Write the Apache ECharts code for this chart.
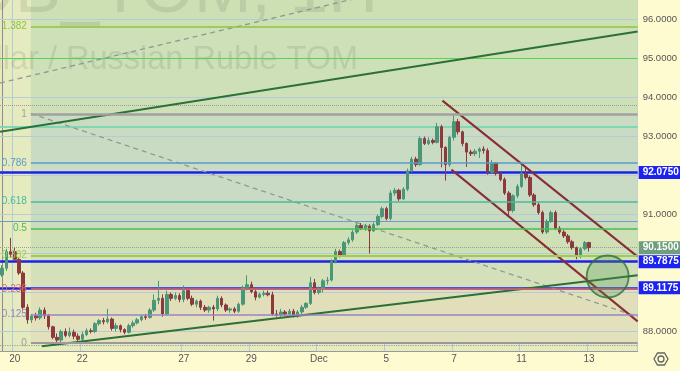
<!DOCTYPE html>
<html><head><meta charset="utf-8">
<script src="https://cdn.jsdelivr.net/npm/echarts@6/dist/echarts.min.js"></script>
<style>html,body{margin:0;padding:0;background:#fffbd0;}#c{width:680px;height:371px;}</style>
</head><body><div id="c"></div>
<script>
// ---------- data ----------
const tradingDays = ['Nov 17','Nov 20','Nov 21','Nov 22','Nov 23','Nov 24','Nov 27','Nov 28','Nov 29','Nov 30',
  'Dec 1','Dec 4','Dec 5','Dec 6','Dec 7','Dec 8','Dec 11','Dec 12','Dec 13','Dec 14'];
const sessionHours = ['10:00','11:00','12:00','13:00','14:00','15:00','16:00','17:00'];
const xTickDays = ['Nov 20','Nov 22','Nov 27','Nov 29','Dec 1','Dec 5','Dec 7','Dec 11','Dec 13'];
const xTickLabels = ['20','22','27','29','Dec','5','7','11','13'];
const yTickLabels = [96, 95, 94, 93, 91, 88];
const gridLevels = [88, 89, 90, 91, 92, 93, 94, 95, 96];

// [open, close, low, high]
const ohlc = [
[89.45,89.62,89.40,89.70],[89.62,90.05,89.55,90.12],[90.05,89.98,89.90,90.40],[90.05,89.85,89.80,90.15],
[89.85,89.50,89.45,89.90],[89.50,88.62,88.55,89.55],[88.62,88.30,88.20,88.70],[88.30,88.40,88.22,88.45],
[88.40,88.35,88.28,88.48],[88.35,88.55,88.30,88.62],[88.55,88.40,88.32,88.62],[88.40,88.12,88.05,88.45],
[88.12,87.85,87.80,88.15],[87.85,87.78,87.70,87.95],[87.78,88.00,87.72,88.05],[88.00,87.90,87.85,88.08],
[87.90,87.98,87.85,88.10],[87.98,87.88,87.80,88.05],[87.88,87.80,87.74,87.95],[87.80,87.92,87.75,88.00],
[87.92,88.02,87.88,88.08],[88.02,88.00,87.95,88.08],[88.00,88.20,87.96,88.24],[88.20,88.28,88.15,88.32],
[88.28,88.25,88.18,88.35],[88.25,88.32,88.20,88.58],[88.32,88.08,88.02,88.36],[88.08,88.15,88.00,88.22],
[88.15,88.05,87.98,88.18],[88.05,87.98,87.93,88.08],[87.98,88.15,87.95,88.20],[88.15,88.22,88.10,88.28],
[88.22,88.30,88.18,88.35],[88.30,88.38,88.26,88.42],[88.38,88.36,88.30,88.45],[88.36,88.55,88.33,88.60],
[88.55,88.80,88.50,88.95],[88.80,88.85,88.70,89.30],[88.85,88.45,88.38,88.95],[88.45,88.95,88.40,89.05],
[88.95,88.85,88.78,89.00],[88.85,88.92,88.80,89.00],[88.92,88.82,88.75,88.98],[88.82,89.05,88.75,89.18],
[89.05,88.85,88.80,89.08],[88.85,88.70,88.65,88.92],[88.70,88.78,88.62,88.82],[88.78,88.62,88.55,88.82],
[88.62,88.55,88.50,88.68],[88.55,88.62,88.48,88.66],[88.62,88.58,88.28,88.68],[88.58,88.85,88.52,88.92],
[88.85,88.68,88.62,88.90],[88.68,88.55,88.50,88.72],[88.55,88.58,88.48,88.62],[88.58,88.52,88.47,88.63],
[88.52,88.70,88.48,88.74],[88.70,89.12,88.66,89.18],[89.12,89.20,89.05,89.44],[89.20,89.02,88.98,89.28],
[89.02,88.88,88.80,89.08],[88.88,88.95,88.85,89.00],[88.95,88.98,88.90,89.05],[88.98,88.94,88.90,89.05],
[88.94,88.45,88.40,89.02],[88.45,88.42,88.38,88.55],[88.42,88.50,88.38,88.58],[88.50,88.45,88.40,88.55],
[88.45,88.52,88.42,88.58],[88.52,88.40,88.36,88.58],[88.40,88.50,88.35,88.55],[88.50,88.62,88.45,88.68],
[88.62,88.72,88.58,88.75],[88.72,89.25,88.68,89.40],[89.25,89.00,88.95,89.35],[89.00,89.08,88.95,89.15],
[89.08,89.30,89.00,89.35],[89.30,89.32,89.20,89.40],[89.32,89.80,89.28,89.85],[89.80,90.05,89.75,90.12],
[90.05,89.95,89.90,90.10],[89.95,90.28,89.92,90.32],[90.28,90.35,90.22,90.42],[90.35,90.55,90.30,90.60],
[90.55,90.72,90.50,90.78],[90.72,90.65,90.60,90.78],[90.65,90.70,90.58,90.76],[90.70,90.58,90.00,90.75],
[90.58,90.74,90.55,90.80],[90.74,90.95,90.70,91.00],[90.95,91.15,90.90,91.20],[91.15,90.90,90.85,91.20],
[90.90,91.55,90.85,91.62],[91.55,91.62,91.48,91.68],[91.62,91.40,91.35,91.66],[91.40,91.65,91.38,91.70],
[91.65,92.12,91.60,92.18],[92.12,92.42,92.08,92.48],[92.42,92.28,92.22,92.48],[92.28,92.95,92.25,93.00],
[92.95,92.82,92.78,93.00],[92.82,92.90,92.78,92.98],[92.90,92.85,92.80,92.95],[92.85,93.25,92.82,93.35],
[93.25,92.72,92.21,93.30],[92.72,92.28,91.87,92.75],[92.28,92.98,92.22,93.02],[92.98,93.38,92.90,93.58],
[93.38,93.12,93.05,93.45],[93.12,92.82,92.75,93.15],[92.82,92.60,92.22,92.85],[92.60,92.56,92.50,92.66],
[92.56,92.62,92.50,92.68],[92.62,92.68,92.45,92.72],[92.68,92.64,92.56,92.75],[92.64,92.08,92.02,92.70],
[92.08,92.32,92.05,92.40],[92.32,92.05,92.00,92.34],[92.05,91.90,91.85,92.08],[91.90,91.55,91.50,91.95],
[91.55,91.10,90.98,91.60],[91.10,91.48,91.05,91.52],[91.48,91.72,91.42,91.78],[91.72,92.05,91.68,92.26],
[92.05,91.95,91.90,92.20],[91.95,91.50,91.45,92.00],[91.50,91.25,91.20,91.55],[91.25,91.05,91.00,91.30],
[91.05,90.55,90.50,91.10],[90.55,90.82,90.50,90.88],[90.82,91.05,90.78,91.10],[91.05,90.65,90.60,91.10],
[90.65,90.55,90.50,90.70],[90.55,90.45,90.40,90.60],[90.45,90.30,90.25,90.50],[90.30,90.15,90.10,90.35],
[90.15,89.92,89.85,90.18],[89.92,90.12,89.88,90.16],[90.12,90.28,90.08,90.32],[90.28,90.15,90.05,90.30]
];

// Fibonacci retracement
const fibRatios = [0, 0.125, 0.236, 0.382, 0.5, 0.618, 0.786, 1, 1.382];
const fibLow = 87.70, fibHigh = 93.58, fibStartBar = 6.81, fibEndBar = 150.5;

// horizontal levels
const levelPrices = [95.0, 93.79, 93.26, 90.83, 87.64];
const tagPrices = [92.075, 90.15, 89.7875, 89.1175];

// drawn lines [barIndex, price]
const upperDashed = [[-0.5, 94.37], [150.5, 98.26]];
const upperGreen = [[-0.5, 93.12], [150.5, 95.69]];
const fibDiagonal = [[6.81, 93.59], [150.5, 88.38]];
const lowerGreen = [[9.41, 87.62], [150.5, 89.44]];
const channelTop = [[104.27, 93.92], [150.5, 89.92]];
const channelBottom = [[106.39, 92.15], [150.5, 88.26]];
const targetCircle = [[143.4, 89.41]];

// ---------- styles ----------
const fibColors = ['#9a9a9a','#9683c4','#e06b6b','#9ccc55','#4cbb4c','#48b89e','#5a9bc8','#a0a0a0','#8cc63f'];
const fibWidths = [2,1.5,1.5,2,1.5,1.5,1.5,2.5,1.5];
const bandColors = ['#e3e1bb','#e0dfba','#d3e0b9','#cfe0b7','#cadcbf','#c9dbc4','#cadbc3','#cde0b8','#cde0b4'];
const levelStyles = [
  {color:'#55d455', width:1.2, type:'solid'},
  {color:'#9c9c9c', width:1, type:'dotted'},
  {color:'#7fd8b2', width:2, type:'solid'},
  {color:'#6aa0c6', width:1, type:'solid'},
  {color:'#9c9c9c', width:1.2, type:'dotted'}
];
const tagStyles = [
  {line:'#1c22e6', bg:'#1c22f0', width:2.5, type:'solid'},
  {line:'#8aa890', bg:'#6e9e7e', width:1, type:'dotted'},
  {line:'#1c22e6', bg:'#1c22f0', width:2.5, type:'solid'},
  {line:'#1c22e6', bg:'#1c22f0', width:2.5, type:'solid'}
];

// ---------- build ----------
const categories = [];
tradingDays.forEach((d, i) => {
  let hrs = sessionHours;
  if (i === 0) hrs = sessionHours.slice(5);
  if (i === tradingDays.length - 1) hrs = sessionHours.slice(0, 4);
  hrs.forEach(h => categories.push(d + ' ' + h));
});
const tickIndex = {};
xTickDays.forEach((d, i) => { tickIndex[categories.indexOf(d + ' 10:00')] = xTickLabels[i]; });
const isTick = (idx) => tickIndex[idx] !== undefined;

const fibPrice = r => fibLow + r * (fibHigh - fibLow);
const yMax = 96.5;

const fibLines = fibRatios.map((r, i) => {
  const p = fibPrice(r);
  const st = {color: fibColors[i], width: fibWidths[i], type: 'solid'};
  const lab = {show: true, position: 'start', distance: 4, formatter: String(r), color: fibColors[i],
               fontSize: 10, fontFamily: 'Liberation Sans'};
  return [{coord: [fibStartBar, p], lineStyle: st, label: lab}, {coord: [fibEndBar, p], lineStyle: st, label: lab}];
});
const fibBands = [];
for (let i = 0; i < fibRatios.length; i++) {
  const lo = fibPrice(fibRatios[i]);
  const hi = i + 1 < fibRatios.length ? fibPrice(fibRatios[i + 1]) : yMax;
  fibBands.push([{coord: [fibStartBar, Math.min(hi, yMax)], itemStyle: {color: bandColors[i]}},
                 {coord: [fibEndBar, lo]}]);
}

const hLineData = [];
gridLevels.forEach(v => hLineData.push({yAxis: v, lineStyle: {color: '#b5cbd6', width: 1, type: 'solid'}}));
levelPrices.forEach((v, i) => hLineData.push({yAxis: v, lineStyle: levelStyles[i]}));
tagPrices.forEach((v, i) => hLineData.push({
  yAxis: v, lineStyle: {color: tagStyles[i].line, width: tagStyles[i].width, type: tagStyles[i].type},
  label: {show: true, position: 'end', distance: 1, formatter: v.toFixed(4), color: '#fff',
          backgroundColor: tagStyles[i].bg, padding: [2, 4, 1, 4], fontSize: 10, fontWeight: 'bold',
          fontFamily: 'Liberation Sans'}
}));

function lineSeries(data, color, width, type, z) {
  return {type: 'line', xAxisIndex: 1, data: data, showSymbol: false, symbol: 'none', z: z || 4,
          lineStyle: {color: color, width: width, type: type}, silent: true, clip: true, animation: false};
}

const chart = echarts.init(document.getElementById('c'), null, {renderer: 'canvas'});
chart.setOption({
  animation: false,
  backgroundColor: '#fffbd0',
  grid: {left: 0, right: 40, top: 0, height: 351, show: true, backgroundColor: '#e6ebbf', borderWidth: 0},
  xAxis: [{
    type: 'category', data: categories, boundaryGap: true,
    axisLine: {show: true, lineStyle: {color: '#9a9a9a'}},
    axisTick: {show: false},
    axisLabel: {interval: (idx) => isTick(idx), formatter: (v, idx) => tickIndex[idx] || '',
                color: '#555', fontSize: 10, margin: 3, fontFamily: 'Liberation Sans'},
    splitLine: {show: true, interval: (idx) => isTick(idx), lineStyle: {color: '#b5cbd6', width: 1}}
  }, {
    type: 'value', min: -0.5, max: 150.5, show: false
  }],
  yAxis: {
    type: 'value', position: 'right', min: 87.5, max: yMax, interval: 0.5, scale: true,
    axisLine: {show: true, lineStyle: {color: '#8c8c8c'}},
    axisTick: {show: false},
    splitLine: {show: false},
    axisLabel: {formatter: v => yTickLabels.indexOf(v) >= 0 ? v.toFixed(4) : '', color: '#555',
                fontSize: 9.5, margin: 5, fontFamily: 'Liberation Sans'}
  },
  graphic: [
    {type: 'text', z: 2, x: 378, y: -7, silent: true, style: {text: 'USDRUB_TOM, 1H', fill: 'rgba(95,115,95,0.17)',
      font: '69px "Liberation Sans"', textAlign: 'right', textVerticalAlign: 'middle'}},
    {type: 'text', z: 2, x: 358, y: 60.5, silent: true, style: {text: 'US Dollar / Russian Ruble TOM', fill: 'rgba(95,115,95,0.17)',
      font: '32.5px "Liberation Sans"', textAlign: 'right', textVerticalAlign: 'middle'}},
    {type: 'circle', shape: {cx: 661, cy: 359, r: 3}, style: {fill: 'none', stroke: '#666', lineWidth: 1.3}},
    {type: 'polygon', shape: {points: [[668,359],[664.5,365],[657.5,365],[654,359],[657.5,353],[664.5,353]]},
      style: {fill: 'none', stroke: '#666', lineWidth: 1.3}}
  ],
  series: [
    {
      type: 'line', xAxisIndex: 1, data: [[-0.5, null]], showSymbol: false, z: 1, silent: true,
      markArea: {silent: true, data: fibBands},
      markLine: {silent: true, symbol: ['none', 'none'], data: fibLines}
    },
    {
      type: 'candlestick', xAxisIndex: 0, data: ohlc, barWidth: 3, z: 3, silent: true,
      itemStyle: {color: '#4b9677', color0: '#8c3a3d', borderColor: '#4b9677', borderColor0: '#8c3a3d', borderWidth: 1},
      markLine: {silent: true, symbol: ['none', 'none'], label: {show: false}, data: hLineData, z: 2}
    },
    lineSeries(upperDashed, '#8f9a92', 1.3, [5, 4], 2),
    lineSeries(fibDiagonal, '#8f9a92', 1.3, [5, 4], 2),
    lineSeries(upperGreen, '#2c7038', 2),
    lineSeries(lowerGreen, '#2c7038', 2),
    lineSeries(channelTop, '#8a2c36', 2),
    lineSeries(channelBottom, '#8a2c36', 2),
    {type: 'scatter', xAxisIndex: 1, data: targetCircle, symbol: 'circle', symbolSize: 42, z: 5, silent: true,
     itemStyle: {color: 'rgba(80,150,80,0.35)', borderColor: '#2f6f3a', borderWidth: 1.8}}
  ]
});
</script></body></html>
